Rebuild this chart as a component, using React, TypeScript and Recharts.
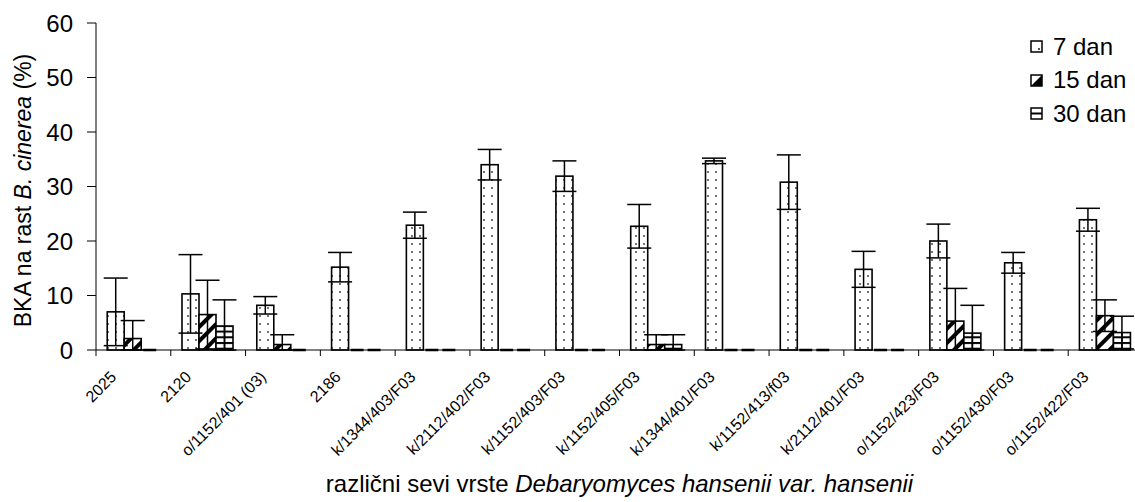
import React from 'react';
import { BarChart, Bar, XAxis, YAxis, ErrorBar } from 'recharts';

const FONT = '"Liberation Sans", Arial, sans-serif';

// Strains of Debaryomyces hansenii var. hansenii
const strains = [
  '2025',
  '2120',
  'o/1152/401 (03)',
  '2186',
  'k/1344/403/F03',
  'k/2112/402/F03',
  'k/1152/403/F03',
  'k/1152/405/F03',
  'k/1344/401/F03',
  'k/1152/413/f03',
  'k/2112/401/F03',
  'o/1152/423/F03',
  'o/1152/430/F03',
  'o/1152/422/F03',
];

// Antagonistic activity (%) after 7, 15 and 30 days, with standard deviations
const day7 = [7.0, 10.3, 8.2, 15.2, 22.9, 34.0, 31.9, 22.7, 34.7, 30.8, 14.8, 20.0, 16.0, 23.9];
const day7Err = [6.2, 7.2, 1.6, 2.7, 2.4, 2.8, 2.8, 4.0, 0.5, 5.0, 3.3, 3.1, 1.9, 2.1];
const day15 = [2.1, 6.5, 1.0, 0, 0, 0, 0, 1.0, 0, 0, 0, 5.3, 0, 6.3];
const day15Err = [3.3, 6.3, 1.8, null, null, null, null, 1.8, null, null, null, 6.0, null, 2.9];
const day30 = [0, 4.4, 0, 0, 0, 0, 0, 1.0, 0, 0, 0, 3.1, 0, 3.2];
const day30Err = [null, 4.8, null, null, null, null, null, 1.8, null, null, null, 5.1, null, 3.0];

const yTicks = [0, 10, 20, 30, 40, 50, 60];

// whiskers are cut off at the x axis, like the plot area clipping
const whisker = (v: number, e: number | null) => (e == null ? null : [Math.min(e, v), e]);

const rows = strains.map((name, i) => ({
  name,
  d7: day7[i],
  e7: whisker(day7[i], day7Err[i]),
  d15: day15[i],
  e15: whisker(day15[i], day15Err[i]),
  d30: day30[i],
  e30: whisker(day30[i], day30Err[i]),
}));

const CHART_W = 1150;
const CHART_H = 502;
const PLOT_LEFT = 96;
const PLOT_RIGHT = CHART_W - 7;
const PLOT_TOP = 23;
const AXIS_H = 152;
const AXIS_Y = CHART_H - AXIS_H;
const BAND = (PLOT_RIGHT - PLOT_LEFT) / strains.length;

const makeShape = (fill: string, midLine: boolean) => (props: any) => {
  const { x, y, width, height } = props;
  if (!height || Math.abs(height) < 0.5) {
    return (
      <line x1={x + 2} x2={x + width - 2} y1={y} y2={y} stroke="#000" strokeWidth={2.5} />
    );
  }
  return (
    <g>
      <rect x={x} y={y} width={width} height={height} fill={fill} stroke="#000" strokeWidth={1.6} />
      {midLine && (
        <line x1={x + width / 2} x2={x + width / 2} y1={y} y2={y + height} stroke="#000" strokeWidth={1.6} />
      )}
    </g>
  );
};

const XTick = (props: any) => {
  const { x, payload } = props;
  const ax = x - 16;
  const ay = AXIS_Y + 28;
  return (
    <g>
      <line x1={x - BAND / 2} x2={x - BAND / 2} y1={AXIS_Y} y2={AXIS_Y + 6} stroke="#000" strokeWidth={1} />
      <text
        x={ax}
        y={ay}
        transform={`rotate(-45, ${ax}, ${ay})`}
        textAnchor="end"
        fontSize={16}
        fontFamily={FONT}
        fill="#000"
      >
        {payload.value}
      </text>
    </g>
  );
};

// small legend swatches: dotted, half-filled diagonal, split box
const swatch = (kind: string) => {
  switch (kind) {
    case 'dots':
      return (
        <>
          <rect x={1} y={1} width={11} height={11} fill="#fff" stroke="#000" strokeWidth={1.5} />
          <circle cx={9} cy={9} r={0.9} fill="#000" />
        </>
      );
    case 'stripes':
      return (
        <>
          <rect x={1} y={1} width={11} height={11} fill="#fff" stroke="#000" strokeWidth={1.5} />
          <polygon points="12,1 12,12 1,12" fill="#000" />
        </>
      );
    default:
      return (
        <>
          <rect x={1} y={1} width={11} height={11} fill="#fff" stroke="#000" strokeWidth={1.5} />
          <line x1={1} x2={12} y1={6.5} y2={6.5} stroke="#000" strokeWidth={2} />
        </>
      );
  }
};

const legendItems = [
  { label: '7 dan', kind: 'dots' },
  { label: '15 dan', kind: 'stripes' },
  { label: '30 dan', kind: 'hlines' },
];

function ChartLegend() {
  return (
    <div style={{ position: 'absolute', left: 1030, top: 30, fontFamily: FONT, fontSize: 24, color: '#000', lineHeight: 1 }}>
      {legendItems.map((it) => (
        <div key={it.label} style={{ display: 'flex', alignItems: 'center', height: 33.5 }}>
          <svg width={13} height={13} style={{ marginRight: 10 }}>
            {swatch(it.kind)}
          </svg>
          <span>{it.label}</span>
        </div>
      ))}
    </div>
  );
}

export default function App() {
  return (
    <div style={{ position: 'absolute', left: 0, top: 0, width: 1135, height: 502, overflow: 'hidden', background: '#fff' }}>
      <svg width={0} height={0} style={{ position: 'absolute' }}>
        <defs>
          <pattern id="dots" width={8} height={8} patternUnits="userSpaceOnUse">
            <rect width={8} height={8} fill="#fff" />
            <circle cx={4} cy={4} r={0.9} fill="#333" />
          </pattern>
          <pattern id="stripes" width={10} height={10} patternUnits="userSpaceOnUse" patternTransform="rotate(45)">
            <rect width={10} height={10} fill="#fff" />
            <rect x={0} y={0} width={4} height={10} fill="#000" />
          </pattern>
          <pattern id="hlines" width={6} height={5.7} patternUnits="userSpaceOnUse">
            <rect width={6} height={5.7} fill="#fff" />
            <rect x={0} y={0} width={6} height={2} fill="#000" />
          </pattern>
        </defs>
      </svg>
      <BarChart
        width={CHART_W}
        height={CHART_H}
        data={rows}
        margin={{ top: PLOT_TOP, right: CHART_W - PLOT_RIGHT, left: 0, bottom: 0 }}
        barCategoryGap="15%"
        barGap={0}
        style={{ fontFamily: FONT }}
      >
        <XAxis
          dataKey="name"
          height={AXIS_H}
          interval={0}
          tickLine={false}
          axisLine={{ stroke: '#000', strokeWidth: 1 }}
          tick={<XTick />}
          label={{
            content: (p: any) => {
              const vb = p.viewBox;
              return (
                <text x={vb.x + vb.width / 2} y={492} textAnchor="middle" fontSize={24} fontFamily={FONT} fill="#000">
                  različni sevi vrste <tspan fontStyle="italic">Debaryomyces hansenii var. hansenii</tspan>
                </text>
              );
            },
          }}
        />
        <YAxis
          width={PLOT_LEFT}
          domain={[0, 60]}
          ticks={yTicks}
          interval={0}
          tickSize={9}
          tickMargin={14}
          axisLine={{ stroke: '#000', strokeWidth: 1 }}
          tickLine={{ stroke: '#000', strokeWidth: 1 }}
          tick={{ fontSize: 24, fill: '#000', fontFamily: FONT }}
          label={{
            content: (p: any) => {
              const vb = p.viewBox;
              const cx = 23;
              const cy = vb.y + vb.height / 2 + 4;
              return (
                <text
                  x={cx}
                  y={cy}
                  transform={`rotate(-90, ${cx}, ${cy})`}
                  textAnchor="middle"
                  dominantBaseline="central"
                  fontSize={23}
                  fontFamily={FONT}
                  fill="#000"
                >
                  BKA na rast <tspan fontStyle="italic">B. cinerea</tspan> (%)
                </text>
              );
            },
          }}
        />
        <Bar dataKey="d7" name="7 dan" shape={makeShape('url(#dots)', false)} isAnimationActive={false}>
          <ErrorBar dataKey="e7" width={12} stroke="#000" strokeWidth={1.5} direction="y" isAnimationActive={false} />
        </Bar>
        <Bar dataKey="d15" name="15 dan" shape={makeShape('url(#stripes)', false)} isAnimationActive={false}>
          <ErrorBar dataKey="e15" width={12} stroke="#000" strokeWidth={1.5} direction="y" isAnimationActive={false} />
        </Bar>
        <Bar dataKey="d30" name="30 dan" shape={makeShape('url(#hlines)', true)} isAnimationActive={false}>
          <ErrorBar dataKey="e30" width={12} stroke="#000" strokeWidth={1.5} direction="y" isAnimationActive={false} />
        </Bar>
      </BarChart>
      <ChartLegend />
    </div>
  );
}
